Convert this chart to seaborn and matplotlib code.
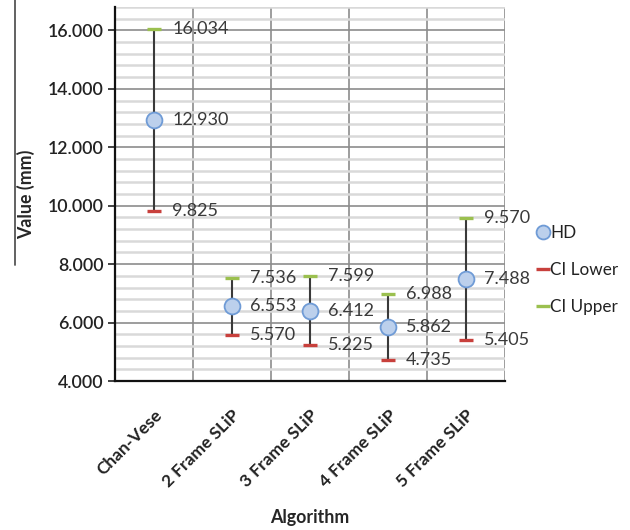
import matplotlib
matplotlib.use("Agg")
import matplotlib.pyplot as plt
from matplotlib.lines import Line2D
from matplotlib.ticker import MultipleLocator, FormatStrFormatter
import seaborn as sns
import pandas as pd

# Hausdorff distance per algorithm with its confidence interval bounds
algorithms = ["Chan-Vese", "2 Frame SLiP", "3 Frame SLiP", "4 Frame SLiP", "5 Frame SLiP"]
hd = [12.930, 6.553, 6.412, 5.862, 7.488]
ci_lower = [9.825, 5.570, 5.225, 4.735, 5.405]
ci_upper = [16.034, 7.536, 7.599, 6.988, 9.570]

sns.set_theme(style="white")
plt.rcParams["font.family"] = ["Lato", "DejaVu Sans"]

df = pd.DataFrame({"Algorithm": algorithms, "HD": hd,
                   "CI Lower": ci_lower, "CI Upper": ci_upper})
pos = list(range(len(algorithms)))
df["pos"] = pos

fig = plt.figure(figsize=(6.3, 5.3), dpi=100)
ax = fig.add_axes([0.1825, 0.2811, 0.6191, 0.7057])

# interval whiskers
ax.vlines(df["pos"], df["CI Lower"], df["CI Upper"], color="#3a3a3a", lw=1.5, zorder=3)

sns.scatterplot(data=df, x="pos", y="HD", ax=ax, marker="o", s=130,
                color="#bcd0ec", edgecolor="#6f9bd6", linewidth=1.3,
                zorder=5, label="HD")
sns.scatterplot(data=df, x="pos", y="CI Lower", ax=ax, marker="_", s=110,
                color="#c8403c", linewidth=2.4, zorder=4, label="CI Lower")
sns.scatterplot(data=df, x="pos", y="CI Upper", ax=ax, marker="_", s=110,
                color="#9bc04f", linewidth=2.4, zorder=4, label="CI Upper")

# value labels
for col in ["HD", "CI Lower", "CI Upper"]:
    for x, v in zip(df["pos"], df[col]):
        ax.annotate(f"{v:.3f}", (x, v), xytext=(13, 0), textcoords="offset points",
                    va="center", ha="left", fontsize=13, color="#3a3a3a", zorder=6)

ax.set_xlim(-0.5, len(algorithms) - 0.5)
ax.set_ylim(4, 16.8)
ax.yaxis.set_major_locator(MultipleLocator(2))
ax.yaxis.set_minor_locator(MultipleLocator(0.4))
ax.yaxis.set_major_formatter(FormatStrFormatter("%.3f"))
ax.set_xticks(pos)
ax.set_xticklabels(algorithms, rotation=45, ha="right", rotation_mode="anchor",
                   fontsize=12.5, fontweight="bold", color="#222222")
ax.xaxis.set_minor_locator(MultipleLocator(1, offset=0.5))
ax.tick_params(axis="x", which="both", length=0, pad=19)
ax.tick_params(axis="y", which="major", length=5, width=1.2, color="#222222",
               labelsize=12.8, labelcolor="#222222", pad=3, left=True)
ax.tick_params(axis="y", which="minor", length=0)
for lab in ax.get_yticklabels():
    lab.set_fontweight("semibold")

ax.grid(False)
ax.yaxis.grid(True, which="minor", color="#d9d9d9", lw=1.8, zorder=0)
ax.yaxis.grid(True, which="major", color="#8c8c8c", lw=1.2, zorder=1)
ax.xaxis.grid(True, which="minor", color="#8c8c8c", lw=1.2, zorder=1)
ax.set_axisbelow(True)

for s in ["top", "right"]:
    ax.spines[s].set_visible(False)
ax.spines["left"].set_color("#111111")
ax.spines["left"].set_linewidth(1.6)
ax.spines["bottom"].set_color("#111111")
ax.spines["bottom"].set_linewidth(1.6)

ax.set_xlabel("Algorithm", fontsize=12.8, fontweight="bold")
ax.set_ylabel("Value (mm)", fontsize=12.8, fontweight="bold")
ax.xaxis.set_label_coords(0.5, -0.342)
ax.yaxis.set_label_coords(-0.205, 0.5)

handles = [
    Line2D([], [], marker="o", ls="", markersize=10, markerfacecolor="#bcd0ec",
           markeredgecolor="#6f9bd6", markeredgewidth=1.3),
    Line2D([], [], marker="_", ls="", markersize=10, color="#c8403c", markeredgewidth=2.4),
    Line2D([], [], marker="_", ls="", markersize=10, color="#9bc04f", markeredgewidth=2.4),
]
ax.legend(handles, ["HD", "CI Lower", "CI Upper"], loc="center left",
          bbox_to_anchor=(1.043, 0.297), frameon=False, fontsize=12.3,
          handlelength=0.7, handletextpad=0.05, labelspacing=1.22,
          labelcolor="#222222")

# thin divider at the far left
fig.add_artist(Line2D([15 / 630, 15 / 630], [1.0, 1 - 265 / 530],
                      transform=fig.transFigure, color="#555555", lw=1.3))

fig.savefig("out.png", dpi=100)
